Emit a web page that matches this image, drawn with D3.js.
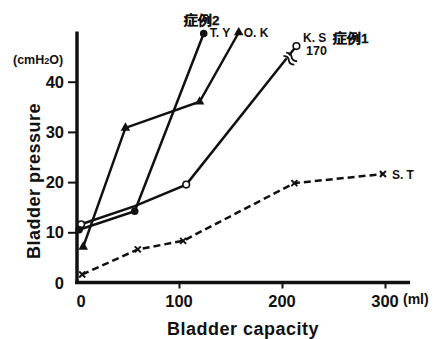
<!DOCTYPE html>
<html><head><meta charset="utf-8">
<script src="https://cdn.jsdelivr.net/npm/d3@7"></script>
<style>
body{margin:0;background:#fff;}
text{font-family:"Liberation Sans",Arial,Helvetica,sans-serif;font-weight:bold;fill:#111;}
</style></head><body>
<script>
// Data (x: bladder capacity ml, y: bladder pressure cmH2O)
const xTicks = [0, 100, 200, 300];
const yTicks = [0, 10, 20, 30, 40];
const seriesNames = ["T. Y", "O. K", "K. S", "S. T"];
const tyX = [3, 57, 124];      const tyY = [10.5, 14.2, 49.6];
const okX = [7, 48, 120, 158]; const okY = [7.1, 30.8, 36, 49.8];
const ksX = [5, 57, 107, 214]; const ksY = [11.6, 15.2, 19.5, 47.1];
const stX = [6, 60, 104, 212, 298]; const stY = [1.6, 6.6, 8.3, 19.8, 21.6];

const W = 435, H = 339;
const svg = d3.select("body").append("svg").attr("width", W).attr("height", H);
const x = d3.scaleLinear().domain([0, 300]).range([76, 385]);
const y = d3.scaleLinear().domain([0, 50]).range([282.5, 31.5]);

// axes
const gx = svg.append("g").attr("transform", "translate(0,282.5)")
  .call(d3.axisBottom(x).tickValues(xTicks.slice(1)).tickSize(6).tickFormat(""));
gx.select(".domain").remove();
gx.selectAll("line").attr("stroke", "#111").attr("stroke-width", 2);
svg.append("line").attr("x1", 75).attr("x2", 410).attr("y1", 282.5).attr("y2", 282.5)
  .attr("stroke", "#111").attr("stroke-width", 3.5);
const gy = svg.append("g").attr("transform", "translate(77,0)")
  .call(d3.axisLeft(y).tickValues(yTicks.slice(1)).tickSize(9).tickFormat(""));
gy.select(".domain").remove();
gy.selectAll("line").attr("stroke", "#111").attr("stroke-width", 2);
svg.append("line").attr("x1", 77).attr("x2", 77).attr("y1", 31.5).attr("y2", 284)
  .attr("stroke", "#111").attr("stroke-width", 3.5);

// tick labels
svg.selectAll(".yl").data(yTicks).enter().append("text")
  .attr("x", 64).attr("y", d => y(d) + 6).attr("text-anchor", "end")
  .attr("font-size", 16.5).text(d => d);
svg.selectAll(".xl").data(xTicks).enter().append("text")
  .attr("x", d => x(d) + (d === 0 ? 5 : 0)).attr("y", 307).attr("text-anchor", "middle")
  .attr("font-size", 16.5).text(d => d);
svg.append("text").attr("x", 403).attr("y", 304).attr("font-size", 14).text("(ml)");
const cm = svg.append("text").attr("x", 13).attr("y", 64).attr("font-size", 12.5);
cm.append("tspan").text("(cmH");
cm.append("tspan").attr("font-size", 9).text("2");
cm.append("tspan").text("O)");

svg.append("text").attr("x", 243).attr("y", 335).attr("text-anchor", "middle")
  .attr("font-size", 18).attr("letter-spacing", 0.5).text("Bladder capacity");
svg.append("text").attr("transform", "translate(40,181) rotate(-90)")
  .attr("text-anchor", "middle").attr("font-size", 18).attr("letter-spacing", 0.5).text("Bladder  pressure");

const line = d3.line().x(d => x(d[0])).y(d => y(d[1]));
const zip = (a, b) => a.map((v, i) => [v, b[i]]);
const ty = zip(tyX, tyY), ok = zip(okX, okY), ks = zip(ksX, ksY), st = zip(stX, stY);

// lines
svg.append("path").datum(st).attr("d", line).attr("fill", "none").attr("stroke", "#111")
  .attr("stroke-width", 2.5).attr("stroke-dasharray", "7,4");
[ks, ok, ty].forEach(s => svg.append("path").datum(s).attr("d", line)
  .attr("fill", "none").attr("stroke", "#111").attr("stroke-width", 2.5));

// break mark on K.S
const bx = x(208), by = y(44.6);
const ang = Math.atan2(y(47.1) - y(19.5), x(214) - x(107)) * 180 / Math.PI;
const bg = svg.append("g").attr("transform", `translate(${bx},${by}) rotate(${ang})`);
bg.append("rect").attr("x", -2).attr("y", -7).attr("width", 4).attr("height", 14).attr("fill", "#fff");
[-2.2, 2.2].forEach(o => bg.append("path")
  .attr("d", `M${o},-7 Q${o + 3},-3 ${o},0 Q${o - 3},3 ${o},7`)
  .attr("fill", "none").attr("stroke", "#111").attr("stroke-width", 1.8));

// markers
svg.selectAll(".st").data(st).enter().append("path")
  .attr("transform", d => `translate(${x(d[0])},${y(d[1])})`)
  .attr("d", "M-3,-3L3,3M-3,3L3,-3").attr("stroke", "#111").attr("stroke-width", 2);
svg.selectAll(".ks").data(ks.filter((d, i) => i !== 1)).enter().append("circle")
  .attr("cx", d => x(d[0])).attr("cy", d => y(d[1])).attr("r", 3.3)
  .attr("fill", "#fff").attr("stroke", "#111").attr("stroke-width", 1.6);
svg.selectAll(".ok").data(ok).enter().append("path")
  .attr("transform", d => `translate(${x(d[0])},${y(d[1])})`)
  .attr("d", d3.symbol(d3.symbolTriangle, 40)).attr("fill", "#111");
svg.selectAll(".ty").data(ty).enter().append("circle")
  .attr("cx", d => x(d[0])).attr("cy", d => y(d[1])).attr("r", 3.8).attr("fill", "#111");

// labels
const cjk = (xx, yy, t) => svg.append("text").attr("x", xx).attr("y", yy).attr("font-size", 13.5)
  .attr("font-family", "Noto Sans CJK JP").attr("font-weight", 900)
  .attr("stroke", "#111").attr("stroke-width", 0.3).text(t);
cjk(184, 25, "症例2");
cjk(333, 43, "症例1");
svg.append("text").attr("x", x(tyX[2]) + 6).attr("y", 37).attr("font-size", 12).text(seriesNames[0]);
svg.append("text").attr("x", x(okX[3]) + 5).attr("y", 37).attr("font-size", 12).text(seriesNames[1]);
svg.append("text").attr("x", 303).attr("y", 42).attr("font-size", 12).text(seriesNames[2]);
svg.append("text").attr("x", 306).attr("y", 55).attr("font-size", 12.5).text("170");
svg.append("text").attr("x", x(stX[4]) + 9).attr("y", 179).attr("font-size", 12).text(seriesNames[3]);
</script>
</body></html>
